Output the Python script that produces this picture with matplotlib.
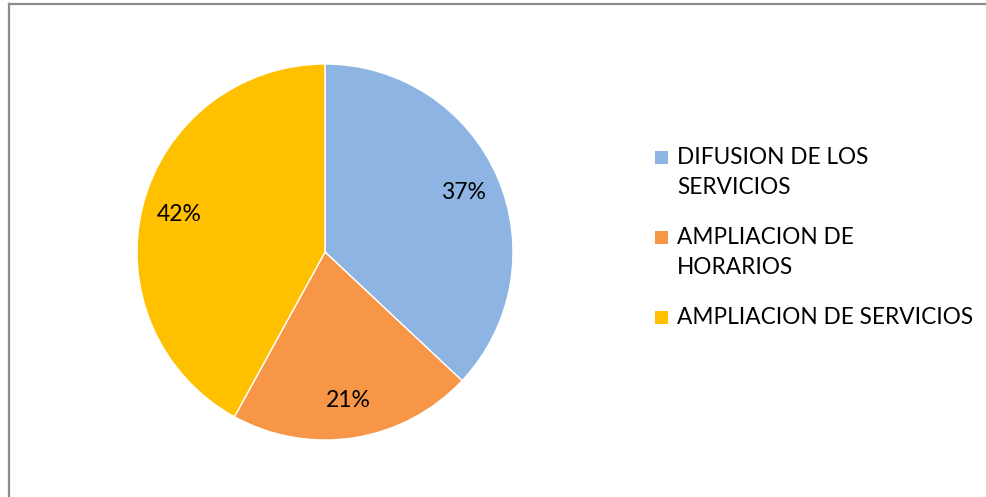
import matplotlib.pyplot as plt
from matplotlib.lines import Line2D
from matplotlib.patches import Rectangle

labels = ['DIFUSION DE LOS\nSERVICIOS', 'AMPLIACION DE\nHORARIOS', 'AMPLIACION DE SERVICIOS']
values = [37, 21, 42]
colors = ['#8EB4E3', '#F79646', '#FFC000']

plt.rcParams['font.family'] = ['Lato', 'DejaVu Sans']

W, H = 987, 497
fig = plt.figure(figsize=(W / 100, H / 100), dpi=100)
fig.patch.set_facecolor('white')

# chart frame (only top and left edges are visible in the crop)
fig.add_artist(Line2D([9 / W, 9 / W], [0, 1 - 4 / H], color='#8c8c8c', lw=1.6))
fig.add_artist(Line2D([9 / W, 1], [1 - 4 / H, 1 - 4 / H], color='#8c8c8c', lw=1.6))

# pie
cx, cy, r = 325, 252, 188
ax = fig.add_axes([(cx - r) / W, (H - cy - r) / H, 2 * r / W, 2 * r / H])
wedges, texts, autotexts = ax.pie(
    values, colors=colors, startangle=90, counterclock=False,
    autopct='%1.0f%%', pctdistance=0.8,
    wedgeprops=dict(edgecolor='white', linewidth=1),
    textprops=dict(fontsize=16.5, color='black'))
ax.set_xlim(-1, 1)
ax.set_ylim(-1, 1)
ax.set_aspect('equal')
ax.axis('off')

# legend drawn by hand so the marker sits on the first line
lx, ly = 655, 157
line_h = 30
for lab, col in zip(labels, colors):
    fig.add_artist(Rectangle((lx / W, 1 - (ly + 6.5) / H), 13 / W, 13 / H,
                             transform=fig.transFigure, color=col, lw=0))
    for k, part in enumerate(lab.split('\n')):
        fig.text(677 / W, 1 - (ly + k * line_h) / H, part, fontsize=16.3,
                 va='center', ha='left', color='black')
    ly += line_h * (lab.count('\n') + 1) + 20

plt.savefig('out.png', dpi=100)
plt.close()
